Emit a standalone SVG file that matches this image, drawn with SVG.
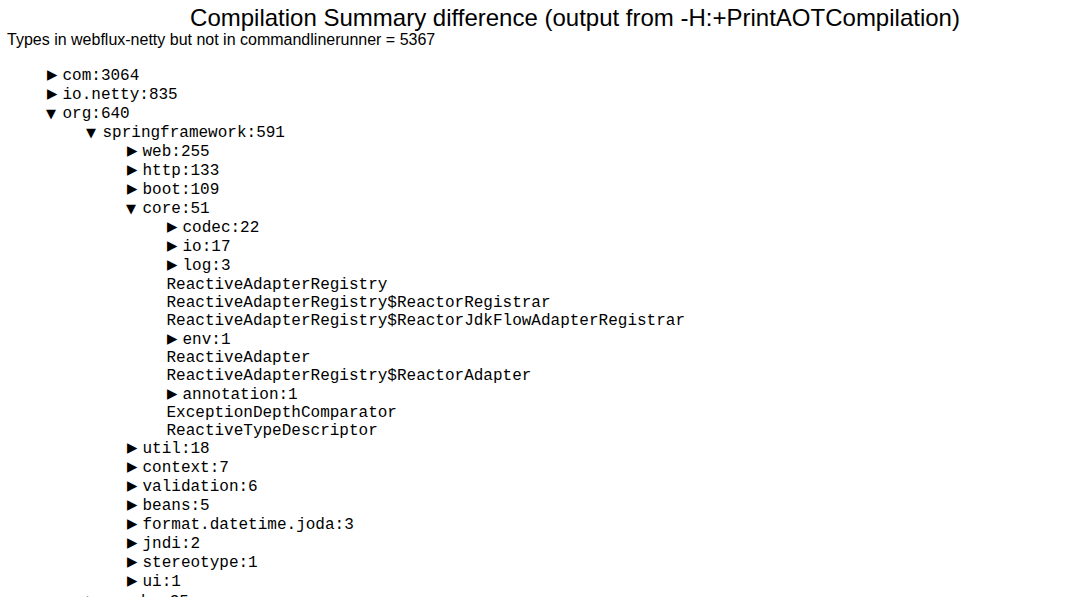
<svg xmlns="http://www.w3.org/2000/svg" width="1082" height="597" viewBox="0 0 1082 597">
<style>
.title{font-family:"Liberation Sans",Arial,sans-serif;font-size:24px;fill:#000}
.sub{font-family:"Liberation Sans",Arial,sans-serif;font-size:16px;fill:#000}
.m{font-family:"Liberation Mono","Courier New",monospace;font-size:16px;fill:#000}
.tr{font-family:"DejaVu Sans",sans-serif;font-size:13.5px;fill:#000}
.td{font-family:"DejaVu Sans",sans-serif;font-size:13px;fill:#000}
</style>
<rect width="1082" height="597" fill="#fff"/>
<text class="title" x="575" y="26" text-anchor="middle">Compilation Summary difference (output from -H:+PrintAOTCompilation)</text>
<text class="sub" x="7" y="45">Types in webflux-netty but not in commandlinerunner = 5367</text>
<g id="n-com"><text class="tr" x="47" y="79">▶</text><text class="m" x="62.5" y="80">com:3064</text></g>
<g id="n-io-netty"><text class="tr" x="47" y="98">▶</text><text class="m" x="62.5" y="99">io.netty:835</text></g>
<g id="n-org"><text class="td" x="46" y="117.5">▼</text><text class="m" x="62.5" y="118">org:640</text></g>
<g id="n-springframework"><text class="td" x="86" y="136.5">▼</text><text class="m" x="102.5" y="137">springframework:591</text></g>
<g id="n-web"><text class="tr" x="127" y="155">▶</text><text class="m" x="142.5" y="156">web:255</text></g>
<g id="n-http"><text class="tr" x="127" y="174">▶</text><text class="m" x="142.5" y="175">http:133</text></g>
<g id="n-boot"><text class="tr" x="127" y="193">▶</text><text class="m" x="142.5" y="194">boot:109</text></g>
<g id="n-core"><text class="td" x="126" y="212.5">▼</text><text class="m" x="142.5" y="213">core:51</text></g>
<g id="n-codec"><text class="tr" x="167" y="231">▶</text><text class="m" x="182.5" y="232">codec:22</text></g>
<g id="n-io"><text class="tr" x="167" y="250">▶</text><text class="m" x="182.5" y="251">io:17</text></g>
<g id="n-log"><text class="tr" x="167" y="269">▶</text><text class="m" x="182.5" y="270">log:3</text></g>
<g id="n-rar"><text class="m" x="166.5" y="288.5">ReactiveAdapterRegistry</text></g>
<g id="n-rar-rr"><text class="m" x="166.5" y="306.8">ReactiveAdapterRegistry$ReactorRegistrar</text></g>
<g id="n-rar-rjfar"><text class="m" x="166.5" y="325.1">ReactiveAdapterRegistry$ReactorJdkFlowAdapterRegistrar</text></g>
<g id="n-env"><text class="tr" x="167" y="342.5">▶</text><text class="m" x="182.5" y="343.5">env:1</text></g>
<g id="n-ra"><text class="m" x="166.5" y="361.5">ReactiveAdapter</text></g>
<g id="n-rar-ra"><text class="m" x="166.5" y="379.8">ReactiveAdapterRegistry$ReactorAdapter</text></g>
<g id="n-annotation"><text class="tr" x="167" y="397.5">▶</text><text class="m" x="182.5" y="398.5">annotation:1</text></g>
<g id="n-edc"><text class="m" x="166.5" y="416.8">ExceptionDepthComparator</text></g>
<g id="n-rtd"><text class="m" x="166.5" y="435.1">ReactiveTypeDescriptor</text></g>
<g id="n-util"><text class="tr" x="127" y="452">▶</text><text class="m" x="142.5" y="453">util:18</text></g>
<g id="n-context"><text class="tr" x="127" y="471">▶</text><text class="m" x="142.5" y="472">context:7</text></g>
<g id="n-validation"><text class="tr" x="127" y="490">▶</text><text class="m" x="142.5" y="491">validation:6</text></g>
<g id="n-beans"><text class="tr" x="127" y="509">▶</text><text class="m" x="142.5" y="510">beans:5</text></g>
<g id="n-format"><text class="tr" x="127" y="528">▶</text><text class="m" x="142.5" y="529">format.datetime.joda:3</text></g>
<g id="n-jndi"><text class="tr" x="127" y="547">▶</text><text class="m" x="142.5" y="548">jndi:2</text></g>
<g id="n-stereotype"><text class="tr" x="127" y="566">▶</text><text class="m" x="142.5" y="567">stereotype:1</text></g>
<g id="n-ui"><text class="tr" x="127" y="585">▶</text><text class="m" x="142.5" y="586">ui:1</text></g>
<g id="n-apache"><text class="tr" x="87" y="605">▶</text><text class="m" x="102.5" y="606">apache:35</text></g>
</svg>
